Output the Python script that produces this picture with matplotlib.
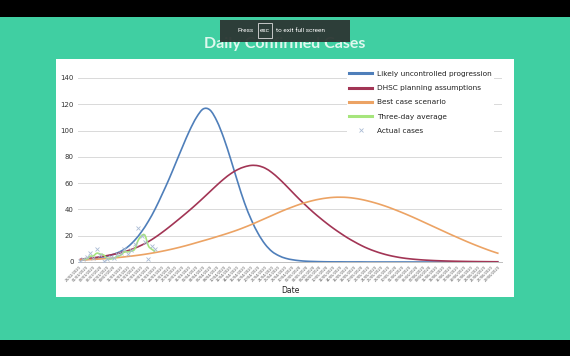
import matplotlib
matplotlib.use('Agg')
import matplotlib.pyplot as plt
from matplotlib.patches import Rectangle, PathPatch
from matplotlib.path import Path
from matplotlib.lines import Line2D
import datetime as dt

# ---------------- data ----------------
start_date = dt.date(2020, 2, 28)
model_days = list(range(0, 123, 2))
tick_labels = [(start_date + dt.timedelta(days=d)).strftime('%d/%m/%Y') for d in model_days]

likely_uncontrolled = [1.5, 2, 2.6, 3.4, 4.5, 6, 8.2, 11.5, 16.5, 23, 31, 40.5, 51.5, 63, 75.5,
                       88, 100, 110, 116.5, 115.5, 107, 94, 78, 61, 45, 32, 21.5, 13.5, 8, 4.8,
                       2.8, 1.7, 1, 0.6, 0.4, 0.25, 0.15, 0.1, 0.1, 0.05, 0.05, 0.05, 0, 0, 0,
                       0, 0, 0, 0, 0, 0, 0, 0, 0, 0, 0, 0, 0, 0, 0, 0, 0]
dhsc_planning = [2, 2.6, 3.2, 4, 4.9, 5.9, 7.1, 8.6, 10.5, 12.8, 15.5, 18.8, 22.5, 26.5, 30.7,
                 35.0, 39.4, 44.0, 48.8, 53.7, 58.6, 63.2, 67.2, 70.3, 72.4, 73.5, 73.2, 71.4,
                 68.0, 63.5, 58.4, 53.0, 47.7, 42.7, 37.9, 33.5, 29.3, 25.4, 21.8, 18.4, 15.4,
                 12.6, 10.2, 8.2, 6.5, 5.1, 4.0, 3.1, 2.45, 1.95, 1.55, 1.25, 1.0, 0.82, 0.67,
                 0.55, 0.45, 0.37, 0.3, 0.25, 0.2, 0.17]
best_case = [1.5, 1.7, 2.0, 2.3, 2.7, 3.1, 3.6, 4.2, 4.8, 5.5, 6.3, 7.2, 8.2, 9.3, 10.5, 11.8,
             13.2, 14.7, 16.2, 17.7, 19.3, 20.9, 22.6, 24.4, 26.4, 28.5, 30.8, 33.1, 35.4, 37.7,
             39.9, 41.9, 43.8, 45.4, 46.8, 47.9, 48.7, 49.2, 49.3, 49.1, 48.5, 47.6, 46.4, 45,
             43.4, 41.6, 39.6, 37.5, 35.3, 33.0, 30.6, 28.2, 25.8, 23.4, 21.0, 18.7, 16.4, 14.2,
             12.1, 10.1, 8.2, 6.5]

actual_days = list(range(0, 23))
actual_cases = [1, 2, 4, 7, 3, 10, 5, 1, 2, 4, 3, 6, 7, 10, 6, 9, 14, 26, 20, 15, 2, 12, 10]
avg_days = list(range(1, 23))
three_day_avg = [2, 2.3, 4.3, 4.7, 6.7, 6, 5.3, 2.7, 2.3, 3, 4.3, 5.3, 7.7, 7.7, 8.3, 9.7,
                 16.3, 20, 20.3, 12.3, 9.7, 8]

y_ticks = [0, 20, 40, 60, 80, 100, 120, 140]

series = [
    ('Likely uncontrolled progression', model_days, likely_uncontrolled, '#4f7fba', 3),
    ('DHSC planning assumptions', model_days, dhsc_planning, '#a23555', 3),
    ('Best case scenario', model_days, best_case, '#eca364', 3),
    ('Three-day average', avg_days, three_day_avg, '#a6e57c', 4),
]


def smooth_path(xs, ys):
    """Excel-style smoothed line through the given points (Catmull-Rom as cubic Beziers)."""
    verts = [(xs[0], ys[0])]
    codes = [Path.MOVETO]
    n = len(xs)
    for i in range(n - 1):
        p0 = (xs[i - 1], ys[i - 1]) if i > 0 else (xs[i], ys[i])
        p1 = (xs[i], ys[i])
        p2 = (xs[i + 1], ys[i + 1])
        p3 = (xs[i + 2], ys[i + 2]) if i + 2 < n else p2
        c1 = (p1[0] + (p2[0] - p0[0]) / 6, p1[1] + (p2[1] - p0[1]) / 6)
        c2 = (p2[0] - (p3[0] - p1[0]) / 6, p2[1] - (p3[1] - p1[1]) / 6)
        verts += [c1, c2, p2]
        codes += [Path.CURVE4] * 3
    return Path(verts, codes)


# ---------------- figure ----------------
W, H = 570, 356
fig = plt.figure(figsize=(W / 100, H / 100), dpi=100)
fig.patch.set_facecolor('#40cfa2')


def fx(px):
    return px / W


def fy(py):
    return 1 - py / H


# black letterbox bars
fig.add_artist(Rectangle((0, fy(17)), 1, 17 / H, transform=fig.transFigure,
                         facecolor='black', edgecolor='none', zorder=0))
fig.add_artist(Rectangle((0, 0), 1, 16 / H, transform=fig.transFigure,
                         facecolor='black', edgecolor='none', zorder=0))
# white panel
fig.add_artist(Rectangle((fx(56), fy(297)), (514 - 56) / W, (297 - 59) / H,
                         transform=fig.transFigure, facecolor='white', edgecolor='none', zorder=0))

# title
fig.text(fx(285), fy(44), 'Daily Confirmed Cases', ha='center', va='center',
         fontsize=11.5, fontweight='bold', family='Lato', color='#dff8ee', zorder=1)

# full-screen overlay
fig.add_artist(Rectangle((fx(220), fy(42)), (350 - 220) / W, (42 - 20) / H,
                         transform=fig.transFigure, facecolor='#2c3633', edgecolor='none',
                         alpha=0.95, zorder=5))
fig.text(fx(238), fy(31), 'Press', ha='left', va='center', fontsize=4.6, color='white',
         family='Roboto', zorder=6)
fig.add_artist(Rectangle((fx(258), fy(38)), 14 / W, 15 / H, transform=fig.transFigure,
                         facecolor='none', edgecolor='#dddddd', linewidth=0.6, zorder=6))
fig.text(fx(265), fy(31), 'esc', ha='center', va='center', fontsize=4.6, color='white',
         family='Roboto', zorder=6)
fig.text(fx(276), fy(31), 'to exit full screen', ha='left', va='center', fontsize=4.6,
         color='white', family='Roboto', zorder=6)

# axes
ax = fig.add_axes([fx(78), fy(262), (502 - 78) / W, (262 - 78) / H])
ax.set_facecolor('white')

handles = []
for label, xs, ys, color, z in series:
    ax.add_patch(PathPatch(smooth_path(xs, ys), facecolor='none', edgecolor=color,
                           linewidth=1.2, zorder=z))
    handles.append(Line2D([], [], color=color, linewidth=2.2, label=label))

ax.plot(actual_days, actual_cases, linestyle='none', marker='x', markersize=3,
        markeredgewidth=0.6, color='#aabbd4', zorder=4)
handles.append(Line2D([], [], linestyle='none', marker='x', markersize=3,
                      markeredgewidth=0.6, color='#aabbd4', label='Actual cases'))

ax.set_xlim(-0.5, 123)
ax.set_ylim(0, 140)
ax.set_yticks(y_ticks)
ax.set_yticklabels([str(v) for v in y_ticks], fontsize=5, color='#333333', family='DejaVu Sans')
ax.set_xticks(model_days)
ax.set_xticklabels(tick_labels, rotation=45, ha='right', rotation_mode='anchor',
                   fontsize=2.6, color='#555555')
ax.tick_params(axis='both', length=0, pad=3)
ax.tick_params(axis='x', pad=2)
ax.grid(axis='y', color='#d9d9d9', linewidth=0.7)
ax.set_axisbelow(True)
for s in ['top', 'right', 'left']:
    ax.spines[s].set_visible(False)
ax.spines['bottom'].set_color('#bfbfbf')
ax.spines['bottom'].set_linewidth(0.7)
ax.set_xlabel('Date', fontsize=5.5, color='#222222', labelpad=2.7)

leg = ax.legend(handles=handles, loc='upper left', bbox_to_anchor=(fx(343), fy(65)),
                bbox_transform=fig.transFigure, fontsize=5.3, frameon=True,
                handlelength=3.2, handletextpad=0.6, labelspacing=1.09, borderpad=0.3)
leg.get_frame().set_facecolor('white')
leg.get_frame().set_edgecolor('none')
leg.get_frame().set_alpha(1)
for t in leg.get_texts():
    t.set_color('#222222')

fig.savefig('out.png', dpi=100)
